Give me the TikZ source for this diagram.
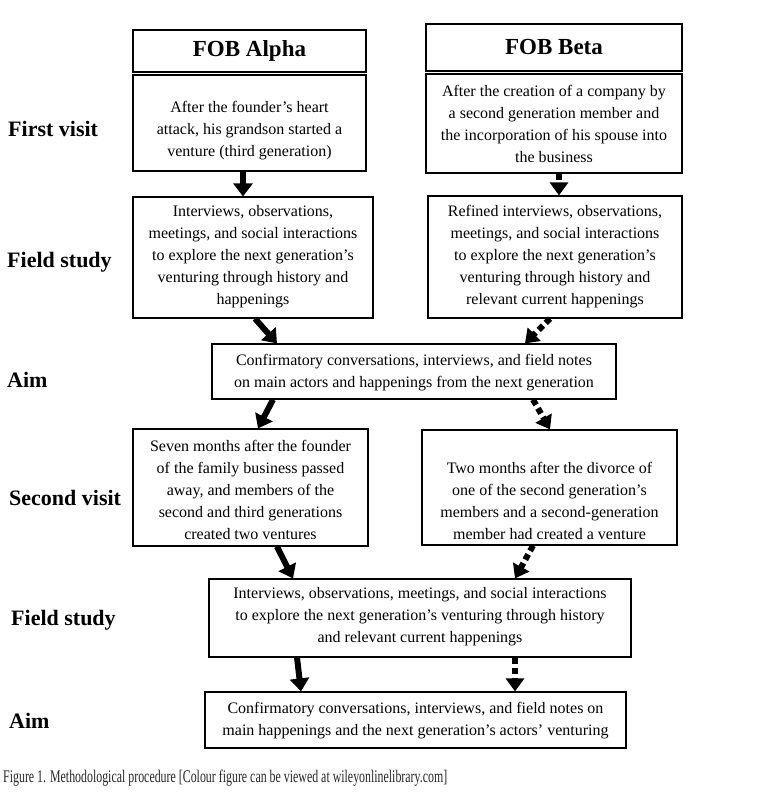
\documentclass[tikz,border=0pt]{standalone}
\usepackage{fontspec}
\setmainfont{Liberation Serif}
\usetikzlibrary{arrows.meta}

\tikzset{
  box/.style={draw, line width=1.2pt, inner sep=0pt},
  btxt/.style={align=center, inner sep=0pt, font=\fontsize{16}{22}\selectfont},
  head/.style={inner sep=0pt, font=\fontsize{23}{26}\selectfont\bfseries},
  rowlabel/.style={anchor=base west, inner sep=0pt, font=\fontsize{22}{26}\selectfont\bfseries},
  flowsolid/.style={line width=6pt, -{Triangle[length=13pt,width=19pt]}},
  flowdotted/.style={line width=6pt, dash pattern=on 6pt off 4pt, -{Triangle[length=13pt,width=18pt]}},
}

\begin{document}
\begin{tikzpicture}[x=1pt, y=-1pt]
\useasboundingbox (0,0) rectangle (762,802);

% row labels
\node[rowlabel] at (8,137) {First visit};
\node[rowlabel] at (7,267) {Field study};
\node[rowlabel] at (7,387) {Aim};
\node[rowlabel] at (9,505) {Second visit};
\node[rowlabel] at (11,625) {Field study};
\node[rowlabel] at (9,728) {Aim};

% column headers
\node[box, minimum width=233pt, minimum height=42pt] (hA) at (249.5,51) {};
\node[head] at (249.5,51) {FOB Alpha};
\node[box, minimum width=256pt, minimum height=47pt] (hB) at (554,47.5) {};
\node[head] at (554,47.5) {FOB Beta};

% first visit
\node[box, minimum width=233pt, minimum height=96pt] (vA1) at (249.5,123) {};
\node[btxt] at (249.5,130.5) {After the founder’s heart\\attack, his grandson started a\\venture (third generation)};
\node[box, minimum width=256pt, minimum height=99pt] (vB1) at (554,123.5) {};
\node[btxt] at (554,123.5) {After the creation of a company by\\a second generation member and\\the incorporation of his spouse into\\the business};

% field study
\node[box, minimum width=240pt, minimum height=121pt] (fA1) at (253,257.5) {};
\node[btxt] at (253,256.5) {Interviews, observations,\\meetings, and social interactions\\to explore the next generation’s\\venturing through history and\\happenings};
\node[box, minimum width=254pt, minimum height=122pt] (fB1) at (555,257) {};
\node[btxt] at (555,256.5) {Refined interviews, observations,\\meetings, and social interactions\\to explore the next generation’s\\venturing through history and\\relevant current happenings};

% aim
\node[box, minimum width=404pt, minimum height=55pt] (aim1) at (414,371.5) {};
\node[btxt] at (414,372.5) {Confirmatory conversations, interviews, and field notes\\on main actors and happenings from the next generation};

% second visit
\node[box, minimum width=235pt, minimum height=117pt] (vA2) at (250.5,487.5) {};
\node[btxt] at (250.5,490) {Seven months after the founder\\of the family business passed\\away, and members of the\\second and third generations\\created two ventures};
\node[box, minimum width=255pt, minimum height=115pt] (vB2) at (549.5,487.5) {};
\node[btxt] at (549.5,501) {Two months after the divorce of\\one of the second generation’s\\members and a second-generation\\member had created a venture};

% field study (second round)
\node[box, minimum width=422pt, minimum height=78pt] (f2) at (420,618) {};
\node[btxt] at (420,617) {Interviews, observations, meetings, and social interactions\\to explore the next generation’s venturing through history\\and relevant current happenings};

% aim (second round)
\node[box, minimum width=421pt, minimum height=56pt] (aim2) at (415.5,720) {};
\node[btxt] at (415.5,721) {Confirmatory conversations, interviews, and field notes on\\main happenings and the next generation’s actors’ venturing};

% FOB Alpha flow
\draw[flowsolid] ([xshift=-6.5pt]vA1.south) -- ([xshift=-10pt]fA1.north);
\draw[flowsolid] ([xshift=2pt]fA1.south) -- ([xshift=-137pt]aim1.north);
\draw[flowsolid] ([xshift=-141pt]aim1.south) -- ([xshift=7.5pt]vA2.north);
\draw[flowsolid] ([xshift=26.5pt]vA2.south) -- ([xshift=-127pt]f2.north);
\draw[flowsolid] ([xshift=-123pt]f2.south) -- ([xshift=-114.5pt]aim2.north);

% FOB Beta flow
\draw[flowdotted] ([xshift=5pt]vB1.south) -- ([xshift=4pt]fB1.north);
\draw[flowdotted] ([xshift=-5pt]fB1.south) -- ([xshift=111pt]aim1.north);
\draw[flowdotted] ([xshift=119pt]aim1.south) -- ([xshift=0.5pt]vB2.north);
\draw[flowdotted] ([xshift=-16.5pt]vB2.south) -- ([xshift=95pt]f2.north);
\draw[flowdotted] ([xshift=95pt]f2.south) -- ([xshift=99.5pt]aim2.north);

% caption
\node[anchor=base west, inner sep=0pt, text=black!85] (cap) at (3,782)
  {\resizebox{444pt}{12.5pt}{Figure 1. Methodological procedure [Colour figure can be viewed at wileyonlinelibrary.com]}};
\end{tikzpicture}
\end{document}
